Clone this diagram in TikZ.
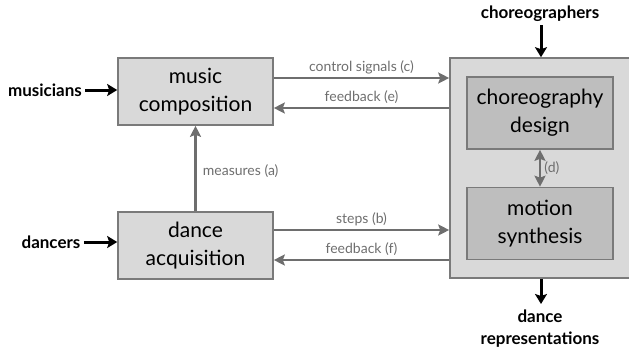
\documentclass[tikz,border=0pt]{standalone}
\usepackage{fontspec}
\setmainfont{Lato}
\usepackage{xcolor}
\usepackage{tikz}
\usetikzlibrary{arrows.meta}
\usetikzlibrary{calc}

\definecolor{boxfill}{HTML}{D9D9D9}
\definecolor{innerfill}{HTML}{BEBEBE}
\definecolor{edgegray}{HTML}{7A7A7A}
\definecolor{flowgray}{HTML}{6E6E6E}

\begin{document}
\begin{tikzpicture}[x=1pt, y=-1pt,
    box/.style={draw=edgegray, fill=boxfill, line width=1.6pt, align=center,
        minimum width=155pt, minimum height=67pt,
        font=\fontsize{21}{28}\selectfont},
    inner/.style={box, fill=innerfill, minimum width=146pt, minimum height=72pt},
    flow/.style={draw=flowgray, line width=2.2pt, -{Stealth[length=11pt, width=11pt, inset=2pt]}},
    tag/.style={text=flowgray, font=\fontsize{14}{16}\selectfont},
    ext/.style={font=\fontsize{17}{22}\selectfont\bfseries, align=center},
    inarrow/.style={line width=3pt, -{Stealth[length=10pt, width=12pt, inset=2pt]}}]
    \clip (0,0) rectangle (629,351);

    % Boxes
    \node[box] (music) at (195.5,91.5) {music\\composition};
    \node[box] (dance) at (195.5,245.5) {dance\\acquisition};
    \node[box, minimum width=182pt, minimum height=220pt] (chor) at (541,168) {};
    \node[inner] (design) at (540,113) {choreography\\design};
    \node[inner] (synth) at (540,223.5) {motion\\synthesis};

    % Gray connections
    \draw[flow] (music.east |- 0,78) -- (chor.west |- 0,78)
        node[tag, midway, above] {control signals (c)};
    \draw[flow] (chor.west |- 0,108) -- (music.east |- 0,108)
        node[tag, midway, above] {feedback (e)};
    \draw[flow] (dance.east |- 0,230) -- (chor.west |- 0,230)
        node[tag, midway, above] {steps (b)};
    \draw[flow] (chor.west |- 0,260) -- (dance.east |- 0,260)
        node[tag, midway, above] {feedback (f)};
    \draw[flow] (dance.north) -- (music.south)
        node[tag, midway, right, xshift=3pt, yshift=-3pt] {measures (a)};
    \draw[flow, {Stealth[length=11pt, width=11pt, inset=2pt]}-{Stealth[length=11pt, width=11pt, inset=2pt]}]
        (design.south) -- (synth.north) node[tag, midway, right] {(d)};

    % Outside actors
    \node[ext] (musicians) at (45,90) {musicians};
    \node[ext] (dancers) at (51,242) {dancers};
    \node[ext] (choreo) at (540,14) {choreographers};
    \node[ext] (reps) at (540,329) {dance\\representations};

    \draw[inarrow] (musicians.east) -- (music.west |- musicians);
    \draw[inarrow] (dancers.east) -- (dance.west |- dancers);
    \draw[inarrow] (choreo.south -| chor.north) -- (chor.north);
    \draw[inarrow] (chor.south) -- (chor.south |- 0,304);
\end{tikzpicture}
\end{document}
